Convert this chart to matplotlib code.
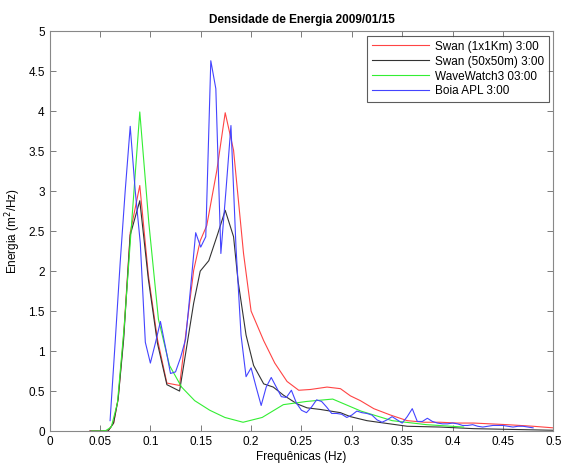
import matplotlib
matplotlib.use('Agg')
import matplotlib.pyplot as plt
from matplotlib.ticker import FormatStrFormatter

plt.rcParams['font.family'] = ['Liberation Sans', 'DejaVu Sans']

# Swan (1x1Km) 3:00
f_red = [0.04, 0.05, 0.058, 0.0635, 0.068, 0.0735, 0.08, 0.0895, 0.098, 0.107,
         0.1164, 0.129, 0.136, 0.143, 0.1495, 0.156, 0.166, 0.1743, 0.1826, 0.1925,
         0.2, 0.2125, 0.2235, 0.2357, 0.2473, 0.259, 0.2754, 0.2887, 0.2986, 0.3085,
         0.3218, 0.3384, 0.355, 0.372, 0.388, 0.405, 0.421, 0.454, 0.48, 0.5]
e_red = [0, 0, 0.0, 0.1, 0.4, 1.2, 2.48, 3.07, 1.95, 1.15,
         0.6, 0.57, 1.3, 2.01, 2.38, 2.57, 3.26, 3.98, 3.51, 2.22,
         1.5, 1.13, 0.85, 0.62, 0.51, 0.52, 0.55, 0.53, 0.44, 0.38,
         0.28, 0.2, 0.13, 0.11, 0.11, 0.1, 0.1, 0.08, 0.06, 0.04]

# Swan (50x50m) 3:00
f_blk = [0.04, 0.058, 0.0635, 0.068, 0.0735, 0.08, 0.0895, 0.098, 0.107, 0.1164,
         0.129, 0.136, 0.143, 0.1495, 0.158, 0.167, 0.1743, 0.1826, 0.187, 0.195,
         0.2025, 0.2125, 0.222, 0.232, 0.2456, 0.2556, 0.2688, 0.2787, 0.2887, 0.2986,
         0.315, 0.332, 0.355, 0.388, 0.421, 0.46, 0.5]
e_blk = [0, 0, 0.1, 0.4, 1.15, 2.45, 2.88, 1.9, 1.1, 0.58,
         0.5, 1.05, 1.6, 2.0, 2.13, 2.47, 2.76, 2.43, 1.88, 1.2,
         0.82, 0.59, 0.55, 0.45, 0.34, 0.29, 0.27, 0.25, 0.23, 0.18,
         0.13, 0.1, 0.06, 0.05, 0.03, 0.02, 0.01]

# WaveWatch3 03:00
f_grn = [0.0418, 0.046, 0.0506, 0.0556, 0.0612, 0.0673, 0.074, 0.0814, 0.0895, 0.0985,
         0.108, 0.119, 0.131, 0.144, 0.159, 0.174, 0.192, 0.211, 0.232, 0.255,
         0.281, 0.309, 0.34, 0.374, 0.411]
e_grn = [0, 0, 0, 0.005, 0.05, 0.35, 1.3, 2.6, 3.99, 2.6,
         1.4, 0.82, 0.55, 0.38, 0.26, 0.17, 0.11, 0.17, 0.33, 0.37,
         0.4, 0.25, 0.13, 0.08, 0.05]

# Boia APL 3:00
f_blu = [0.060, 0.065, 0.070, 0.075, 0.080, 0.085, 0.090, 0.095, 0.100, 0.105,
         0.110, 0.115, 0.120, 0.125, 0.130, 0.135, 0.140, 0.145, 0.150, 0.155,
         0.160, 0.165, 0.170, 0.175, 0.180, 0.185, 0.190, 0.195, 0.200, 0.205,
         0.210, 0.215, 0.220, 0.225, 0.230, 0.235, 0.240, 0.245, 0.250, 0.255,
         0.260, 0.265, 0.270, 0.275, 0.280, 0.285, 0.290, 0.295, 0.300, 0.305,
         0.310, 0.315, 0.320, 0.325, 0.330, 0.335, 0.340, 0.345, 0.350, 0.355,
         0.360, 0.365, 0.370, 0.375, 0.380, 0.385, 0.390, 0.395, 0.400, 0.405,
         0.410, 0.415, 0.420, 0.425, 0.430, 0.435, 0.440, 0.445, 0.450, 0.455,
         0.460, 0.465, 0.470, 0.475, 0.480]
e_blu = [0.13, 1.1, 2.1, 3.0, 3.81, 3.0, 2.35, 1.11, 0.85, 1.1,
         1.37, 1.05, 0.72, 0.74, 0.92, 1.15, 1.8, 2.48, 2.3, 2.43,
         4.63, 4.28, 2.22, 3.0, 3.82, 2.3, 1.2, 0.68, 0.79, 0.55,
         0.32, 0.55, 0.67, 0.55, 0.43, 0.42, 0.51, 0.35, 0.26, 0.23,
         0.3, 0.39, 0.37, 0.3, 0.22, 0.22, 0.21, 0.17, 0.2, 0.25,
         0.23, 0.22, 0.2, 0.14, 0.11, 0.14, 0.18, 0.14, 0.1, 0.18,
         0.28, 0.12, 0.12, 0.16, 0.12, 0.1, 0.09, 0.09, 0.1, 0.09,
         0.07, 0.07, 0.08, 0.06, 0.05, 0.06, 0.07, 0.07, 0.07, 0.06,
         0.05, 0.06, 0.06, 0.05, 0.04]

labels = ['Swan (1x1Km) 3:00', 'Swan (50x50m) 3:00', 'WaveWatch3 03:00', 'Boia APL 3:00']
colors = ['#ff4444', '#333333', '#33ee33', '#4444ff']
xticks = [0, 0.05, 0.1, 0.15, 0.2, 0.25, 0.3, 0.35, 0.4, 0.45, 0.5]
yticks = [0, 0.5, 1, 1.5, 2, 2.5, 3, 3.5, 4, 4.5, 5]

fig = plt.figure(figsize=(5.64, 4.65), dpi=100)
ax = fig.add_axes([0.088, 0.073, 0.893, 0.860])

lw = 0.8
ax.plot(f_red, e_red, color=colors[0], lw=lw, label=labels[0])
ax.plot(f_blk, e_blk, color=colors[1], lw=lw, label=labels[1])
ax.plot(f_grn, e_grn, color=colors[2], lw=lw, label=labels[2])
ax.plot(f_blu, e_blu, color=colors[3], lw=lw, label=labels[3])

ax.set_xlim(0, 0.5)
ax.set_ylim(0, 5)
ax.set_xticks(xticks)
ax.set_yticks(yticks)
ax.xaxis.set_major_formatter(FormatStrFormatter('%g'))
ax.yaxis.set_major_formatter(FormatStrFormatter('%g'))
ax.tick_params(direction='in', length=4, width=0.6, labelsize=8.5, top=True, right=True,
               color='#666666', labelcolor='black')
for s in ax.spines.values():
    s.set_color('#888888')
    s.set_linewidth(0.8)

ax.set_title('Densidade de Energia 2009/01/15', fontsize=8.5, fontweight='bold', pad=6)
ax.set_xlabel('Frequênicas (Hz)', fontsize=8.5, labelpad=2)
ax.set_ylabel('Energia (m$^2$/Hz)', fontsize=8.5, labelpad=4)

leg = ax.legend(loc='upper right', fontsize=8.5, frameon=True, fancybox=False,
                handlelength=4.8, borderaxespad=0.4, labelspacing=0.25,
                borderpad=0.4, handletextpad=0.5)
leg.get_frame().set_edgecolor('#333333')
leg.get_frame().set_linewidth(0.8)
for h, c in zip(leg.get_lines(), colors):
    h.set_color(c)
    h.set_linewidth(0.8)

fig.savefig('out.png', dpi=100)
